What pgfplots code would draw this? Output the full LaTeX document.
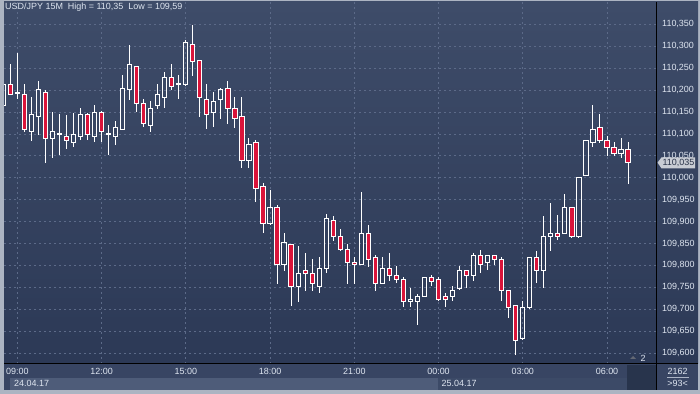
\documentclass[border=0pt]{standalone}
\usepackage{fontspec}
\setmainfont{Liberation Sans}
\usepackage{pgfplots}
\pgfplotsset{compat=1.18}
\usepgfplotslibrary{statistics}
\definecolor{bgtop}{RGB}{62,76,105}
\definecolor{bgbot}{RGB}{44,57,86}
\definecolor{gridc}{RGB}{92,106,136}
\definecolor{candlered}{RGB}{218,20,58}
\definecolor{framec}{RGB}{172,180,194}
\definecolor{txt}{RGB}{222,229,240}
\definecolor{daybarA}{RGB}{78,92,121}
\definecolor{daybarB}{RGB}{60,74,103}
\definecolor{darkbox}{RGB}{40,52,76}
\definecolor{timerow}{RGB}{56,69,99}
\definecolor{markerc}{RGB}{200,204,212}
% (position, low, body low, body high, high)
\newcommand{\up}[5]{\addplot[draw=white, line width=1bp, fill=none, boxplot prepared={draw position=#1, lower whisker=#2, lower quartile=#3, median=#3, upper quartile=#4, upper whisker=#5, box extend=0.6, whisker extend=0}] coordinates {};}
\newcommand{\dn}[5]{\addplot[draw=white, line width=1bp, fill=candlered, boxplot prepared={draw position=#1, lower whisker=#2, lower quartile=#3, median=#3, upper quartile=#4, upper whisker=#5, box extend=0.6, whisker extend=0}] coordinates {};}
\begin{document}
\begin{tikzpicture}
\path[use as bounding box] (0,0) rectangle (700bp,394bp);
\fill[framec] (0,0) rectangle (700bp,394bp);
\shade[top color=bgtop, bottom color=bgbot] (4bp,30bp) rectangle (698bp,392bp);
\fill[timerow] (4bp,4bp) rectangle (698bp,30bp);
\fill[daybarA] (10bp,4bp) rectangle (438bp,16.3bp);
\fill[daybarB] (438bp,4bp) rectangle (627bp,16.3bp);
\fill[darkbox] (627bp,4bp) rectangle (656bp,29bp);
\begin{axis}[
  at={(4bp,30bp)}, anchor=south west,
  width=652bp, height=362bp, scale only axis,
  xmin=-1.895, xmax=90.98, ymin=109.5751, ymax=110.4007,
  axis line style={draw=none}, tick style={draw=none},
  xtick={0,12,24,36,48,60,72,84},
  xticklabels={09:00,12:00,15:00,18:00,21:00,00:00,03:00,06:00},
  ytick={109.60,109.65,109.70,109.75,109.80,109.85,109.90,109.95,110.00,110.05,110.10,110.15,110.20,110.25,110.30,110.35},
  yticklabel pos=right,
  grid=major, grid style={gridc, dash pattern=on 2bp off 3bp, line width=0.6bp},
  ticklabel style={font=\fontsize{9}{10}\selectfont, text=txt},
  yticklabel style={anchor=west, inner sep=0pt, xshift=6bp},
  xticklabel style={anchor=north, inner sep=0pt, yshift=-4.5bp},
  /pgf/number format/fixed, /pgf/number format/fixed zerofill,
  /pgf/number format/precision=3, /pgf/number format/use comma,
  /pgf/number format/1000 sep={}, /pgf/number format/assume math mode=true,
  boxplot/draw direction=y,
]
\up{-2}{110.155}{110.165}{110.213}{110.220}
\dn{-1}{110.190}{110.190}{110.213}{110.259}
\dn{0}{110.179}{110.191}{110.195}{110.285}
\dn{1}{110.105}{110.110}{110.190}{110.213}
\up{2}{110.084}{110.106}{110.145}{110.183}
\up{3}{110.098}{110.140}{110.200}{110.221}
\dn{4}{110.034}{110.090}{110.195}{110.200}
\up{5}{110.046}{110.090}{110.106}{110.149}
\up{6}{110.051}{110.098}{110.100}{110.146}
\dn{7}{110.065}{110.085}{110.094}{110.144}
\up{8}{110.071}{110.081}{110.099}{110.147}
\up{9}{110.086}{110.094}{110.145}{110.160}
\dn{10}{110.085}{110.099}{110.145}{110.148}
\up{11}{110.081}{110.094}{110.149}{110.166}
\dn{12}{110.081}{110.106}{110.149}{110.152}
\up{13}{110.051}{110.098}{110.100}{110.120}
\up{14}{110.075}{110.094}{110.115}{110.129}
\up{15}{110.110}{110.110}{110.204}{110.235}
\up{16}{110.177}{110.200}{110.259}{110.303}
\dn{17}{110.149}{110.170}{110.254}{110.254}
\dn{18}{110.115}{110.124}{110.170}{110.180}
\up{19}{110.105}{110.119}{110.158}{110.174}
\up{20}{110.157}{110.165}{110.190}{110.214}
\up{21}{110.158}{110.183}{110.229}{110.240}
\dn{22}{110.199}{110.208}{110.229}{110.259}
\up{23}{110.179}{110.212}{110.214}{110.235}
\up{24}{110.208}{110.212}{110.309}{110.314}
\dn{25}{110.232}{110.264}{110.303}{110.349}
\dn{26}{110.139}{110.183}{110.267}{110.267}
\dn{27}{110.110}{110.145}{110.179}{110.214}
\up{28}{110.116}{110.149}{110.174}{110.195}
\up{29}{110.135}{110.179}{110.200}{110.204}
\dn{30}{110.123}{110.158}{110.204}{110.221}
\dn{31}{110.114}{110.135}{110.158}{110.183}
\dn{32}{110.021}{110.040}{110.140}{110.183}
\up{33}{110.021}{110.040}{110.076}{110.091}
\dn{34}{109.945}{109.976}{110.081}{110.086}
\dn{35}{109.873}{109.896}{109.980}{109.987}
\up{36}{109.891}{109.895}{109.932}{109.972}
\dn{37}{109.758}{109.802}{109.932}{109.937}
\up{38}{109.788}{109.802}{109.853}{109.873}
\dn{39}{109.708}{109.752}{109.848}{109.848}
\up{40}{109.717}{109.752}{109.782}{109.844}
\dn{41}{109.742}{109.782}{109.789}{109.828}
\dn{42}{109.742}{109.759}{109.782}{109.815}
\up{43}{109.738}{109.752}{109.793}{109.818}
\up{44}{109.782}{109.793}{109.907}{109.917}
\dn{45}{109.856}{109.866}{109.903}{109.912}
\dn{46}{109.832}{109.837}{109.866}{109.882}
\dn{47}{109.758}{109.807}{109.837}{109.848}
\dn{48}{109.758}{109.802}{109.807}{109.818}
\up{49}{109.802}{109.802}{109.873}{109.967}
\dn{50}{109.797}{109.814}{109.873}{109.891}
\dn{51}{109.742}{109.759}{109.818}{109.823}
\up{52}{109.759}{109.759}{109.793}{109.818}
\dn{53}{109.764}{109.777}{109.793}{109.828}
\dn{54}{109.759}{109.768}{109.777}{109.798}
\dn{55}{109.704}{109.718}{109.768}{109.773}
\up{56}{109.704}{109.718}{109.723}{109.748}
\up{57}{109.663}{109.718}{109.729}{109.734}
\up{58}{109.729}{109.729}{109.773}{109.773}
\dn{59}{109.752}{109.764}{109.773}{109.777}
\dn{60}{109.718}{109.723}{109.768}{109.773}
\dn{61}{109.704}{109.723}{109.729}{109.736}
\up{62}{109.718}{109.729}{109.743}{109.752}
\up{63}{109.743}{109.748}{109.789}{109.798}
\dn{64}{109.748}{109.777}{109.789}{109.789}
\up{65}{109.764}{109.777}{109.823}{109.828}
\dn{66}{109.782}{109.802}{109.823}{109.834}
\up{67}{109.789}{109.807}{109.823}{109.823}
\dn{68}{109.802}{109.814}{109.823}{109.823}
\dn{69}{109.718}{109.743}{109.814}{109.818}
\dn{70}{109.679}{109.704}{109.743}{109.743}
\dn{71}{109.595}{109.629}{109.709}{109.709}
\up{72}{109.629}{109.634}{109.704}{109.718}
\up{73}{109.700}{109.704}{109.818}{109.818}
\dn{74}{109.759}{109.789}{109.818}{109.832}
\up{75}{109.748}{109.789}{109.866}{109.912}
\up{76}{109.832}{109.866}{109.873}{109.942}
\dn{77}{109.857}{109.866}{109.873}{109.916}
\up{78}{109.873}{109.873}{109.932}{109.962}
\dn{79}{109.862}{109.866}{109.932}{109.932}
\up{80}{109.862}{109.866}{110.001}{110.001}
\up{81}{110.005}{110.005}{110.085}{110.085}
\up{82}{110.069}{110.081}{110.110}{110.166}
\dn{83}{110.080}{110.085}{110.114}{110.145}
\dn{84}{110.050}{110.069}{110.085}{110.095}
\dn{85}{110.050}{110.056}{110.069}{110.081}
\up{86}{110.045}{110.056}{110.065}{110.090}
\dn{87}{109.986}{110.035}{110.065}{110.081}
\end{axis}
\draw[black, line width=1bp] (4bp,30bp) -- (698bp,30bp);
\draw[black, line width=1bp] (656.5bp,4bp) -- (656.5bp,392bp);
\node[anchor=west, inner sep=0pt, text=txt, font=\fontsize{9}{10}\selectfont] at (5bp,386.5bp) {USD/JPY 15M\ \ High = 110,35\ \ Low = 109,59};
\node[anchor=west, inner sep=0pt, text=txt, font=\fontsize{9}{10}\selectfont] at (14bp,10.7bp) {24.04.17};
\node[anchor=west, inner sep=0pt, text=txt, font=\fontsize{9}{10}\selectfont] at (441.5bp,10.7bp) {25.04.17};
\node[inner sep=0pt, text=txt, font=\fontsize{9}{10}\selectfont] at (677.7bp,23bp) {2162};
\draw[txt!70!timerow, line width=0.6bp] (667bp,16.3bp) -- (689bp,16.3bp);
\node[inner sep=0pt, text=txt, font=\fontsize{9}{10}\selectfont] at (677.7bp,10.3bp) {>93<};
\fill[gray!60!timerow] (630bp,35bp) -- (636bp,35bp) -- (633bp,38bp) -- cycle;
\node[inner sep=0pt, text=txt, font=\fontsize{9}{10}\selectfont] at (643bp,35.5bp) {2};
\fill[markerc] (657.5bp,231.4bp) -- (661.5bp,236.6bp) -- (695bp,236.6bp) -- (695bp,225.6bp) -- (661.5bp,225.6bp) -- cycle;
\node[inner sep=0pt, text={rgb,255:red,40;green,50;blue,72}, font=\fontsize{9}{10}\selectfont] at (678.5bp,231.2bp) {110,035};
\end{tikzpicture}
\end{document}
